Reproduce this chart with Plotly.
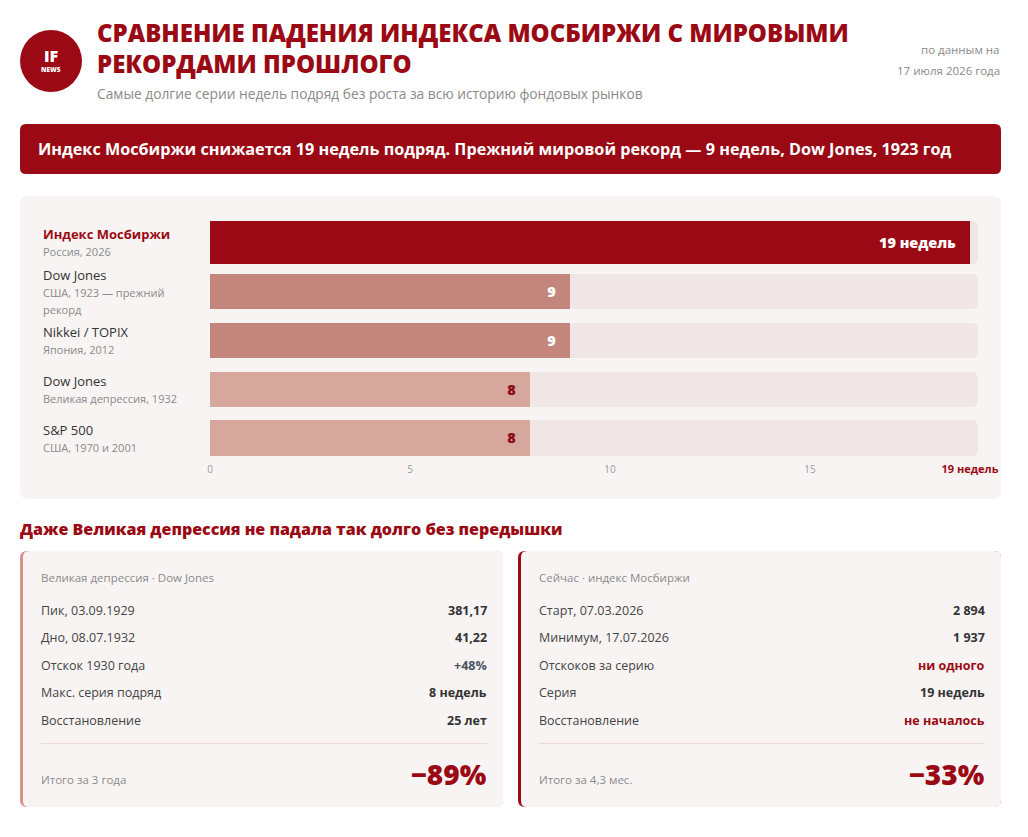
import plotly.graph_objects as go

# ---------------- data ----------------
names = ["Индекс Мосбиржи", "Dow Jones", "Nikkei / TOPIX", "Dow Jones", "S&P 500"]
subs = ["Россия, 2026", "США, 1923 — прежний<br>рекорд", "Япония, 2012",
        "Великая депрессия, 1932", "США, 1970 и 2001"]
weeks = [19, 9, 9, 8, 8]
tick_vals = [0, 5, 10, 15, 19]
tick_text = ["0", "5", "10", "15", "19 недель"]

dep_title = "Великая депрессия · Dow Jones"
dep_labels = ["Пик, 03.09.1929", "Дно, 08.07.1932", "Отскок 1930 года",
              "Макс. серия подряд", "Восстановление"]
dep_values = ["381,17", "41,22", "+48%", "8 недель", "25 лет"]
dep_total_label = "Итого за 3 года"
dep_total = "−89%"

now_title = "Сейчас · индекс Мосбиржи"
now_labels = ["Старт, 07.03.2026", "Минимум, 17.07.2026", "Отскоков за серию",
              "Серия", "Восстановление"]
now_values = ["2 894", "1 937", "ни одного", "19 недель", "не началось"]
now_total_label = "Итого за 4,3 мес."
now_total = "−33%"

# ---------------- style ----------------
W, H = 1028, 837
FONT = "Open Sans"
RED = "#9b0a14"
DARK = "#333333"
GRAY = "#8a8a8a"
CARD = "#f8f4f3"
TRACK = "#f0e6e5"
TRACK_MAX = 19.2
PAD = 2  # annotation inner padding compensation


def px(x):
    return x / W


def py(y):
    return 1 - y / H


def rrect(x0, y0, x1, y1, r, fill, layer="below"):
    pts = [
        ("M", [(x0 + r, y0)]), ("L", [(x1 - r, y0)]), ("Q", [(x1, y0), (x1, y0 + r)]),
        ("L", [(x1, y1 - r)]), ("Q", [(x1, y1), (x1 - r, y1)]), ("L", [(x0 + r, y1)]),
        ("Q", [(x0, y1), (x0, y1 - r)]), ("L", [(x0, y0 + r)]), ("Q", [(x0, y0), (x0 + r, y0)]),
    ]
    path = ""
    for cmd, ps in pts:
        path += cmd + " " + " ".join(f"{px(a):.5f},{py(b):.5f}" for a, b in ps) + " "
    path += "Z"
    return dict(type="path", path=path, xref="paper", yref="paper",
                fillcolor=fill, line=dict(width=0), layer=layer)


def ann(x, y, text, size, color, xanchor="left", yanchor="middle", bold=False, weight=None):
    if bold and weight is None:
        text = f"<b>{text}</b>"
    font = dict(family=FONT, size=size, color=color)
    if weight is not None:
        font["weight"] = weight
    if xanchor == "left":
        x -= PAD
    elif xanchor == "right":
        x += PAD
    return dict(x=px(x), y=py(y), xref="paper", yref="paper",
                text=text, showarrow=False, xanchor=xanchor, yanchor=yanchor,
                align=xanchor if xanchor != "center" else "center",
                font=font)


shapes = []
annotations = []

# ---------- header ----------
shapes.append(dict(type="circle", xref="paper", yref="paper",
                   x0=px(20), x1=px(82), y0=py(30), y1=py(92),
                   fillcolor=RED, line=dict(width=0)))
annotations.append(ann(51, 56, "IF", 16, "white", xanchor="center", weight=800))
annotations.append(ann(51, 69.5, "NEWS", 6.5, "white", xanchor="center", weight=800))
annotations.append(ann(97, 48, "СРАВНЕНИЕ ПАДЕНИЯ ИНДЕКСА МОСБИРЖИ С МИРОВЫМИ<br>РЕКОРДАМИ ПРОШЛОГО",
                       24, RED, weight=800))
annotations.append(ann(97, 93, "Самые долгие серии недель подряд без роста за всю историю фондовых рынков",
                       13.75, GRAY))
annotations.append(ann(1000, 50, "по данным на", 11.5, GRAY, xanchor="right"))
annotations.append(ann(1000, 71, "17 июля 2026 года", 11.5, GRAY, xanchor="right"))

# ---------- banner ----------
shapes.append(rrect(20, 124, 1001, 174, 6, RED))
annotations.append(ann(38, 149, "Индекс Мосбиржи снижается 19 недель подряд. "
                       "Прежний мировой рекорд — 9 недель, Dow Jones, 1923 год",
                       16.2, "white", bold=True))

# ---------- chart card ----------
shapes.append(rrect(20, 196, 1001, 499, 8, CARD))

idx = list(range(len(weeks)))
bar_colors = []
text_colors = []
for i, v in enumerate(weeks):
    if i == 0:
        bar_colors.append(RED); text_colors.append("white")
    elif v >= 9:
        bar_colors.append("#c4867c"); text_colors.append("white")
    else:
        bar_colors.append("#d6a79c"); text_colors.append("#8b0a14")
widths = [0.89 if i == 0 else 0.72 for i in idx]
labels_in = [f"{v} недель" if i == 0 else str(v) for i, v in enumerate(weeks)]

for i in idx:
    nm_color = RED if i == 0 else DARK
    nm = f"<b>{names[i]}</b>" if i == 0 else names[i]
    annotations.append(dict(
        x=px(43 - PAD), y=i, xref="paper", yref="y", xanchor="left", yanchor="middle",
        align="left", showarrow=False,
        text=f"{nm}<br><span style='font-size:11px;color:{GRAY}'>{subs[i]}</span>",
        font=dict(family=FONT, size=13, color=nm_color)))

traces = [
    go.Bar(x=[TRACK_MAX] * len(weeks), y=idx, orientation="h", width=widths,
           marker=dict(color=TRACK, cornerradius=6, line=dict(width=0)),
           hoverinfo="skip", showlegend=False),
    go.Bar(x=weeks, y=idx, orientation="h", width=widths, text=labels_in,
           texttemplate="%{text}\u00a0\u00a0\u00a0", textposition="inside",
           insidetextanchor="end",
           textfont=dict(family=FONT, size=14.5, color=text_colors, weight=800),
           marker=dict(color=bar_colors, line=dict(width=0)),
           hoverinfo="skip", showlegend=False, cliponaxis=False),
]

tick_labels = [t if t != "19 недель" else f"<b><span style='color:{RED};font-size:11px'>{t}</span></b>"
               for t in tick_text]

# ---------- section heading ----------
annotations.append(ann(20, 529, "Даже Великая депрессия не падала так долго без передышки",
                       16, RED, weight=800))


def card(x0, x1, border, title, labels, values, vcolors, total_label, total):
    shapes.append(rrect(x0, 551, x1, 807, 7, border))
    shapes.append(rrect(x0 + 3, 551, x1, 807, 6, CARD))
    lx, rx = x0 + 21, x1 - 16
    annotations.append(ann(lx, 577, title, 11.5, GRAY))
    for k, (lab, val, vc) in enumerate(zip(labels, values, vcolors)):
        y = 610 + k * 27.6
        annotations.append(ann(lx, y, lab, 12.5, "#444444"))
        annotations.append(ann(rx, y, val, 12.5, vc, xanchor="right", bold=True))
    shapes.append(dict(type="line", xref="paper", yref="paper", x0=px(lx), x1=px(rx),
                       y0=py(743.5), y1=py(743.5), line=dict(color="#ead9d7", width=1)))
    annotations.append(ann(lx, 779, total_label, 11.5, GRAY))
    annotations.append(ann(rx, 774, total, 28, RED, xanchor="right", weight=800))


card(20, 503, "#d4918b", dep_title, dep_labels, dep_values,
     [DARK, DARK, "#4b5563", DARK, DARK], dep_total_label, dep_total)
card(518, 1001, RED, now_title, now_labels, now_values,
     [DARK, DARK, RED, DARK, RED], now_total_label, now_total)

# ---------- layout ----------
row_first, row_step = 242.4, 48.9
row_top = row_first - row_step / 2
row_bot = row_first + row_step * (len(weeks) - 0.5)
fig = go.Figure(traces)
fig.update_layout(
    width=W, height=H, autosize=False, margin=dict(l=0, r=0, t=0, b=0, pad=0),
    paper_bgcolor="white", plot_bgcolor="rgba(0,0,0,0)",
    barmode="overlay", bargap=0,
    font=dict(family=FONT),
    shapes=shapes, annotations=annotations,
    xaxis=dict(domain=[px(210), px(978)], range=[0, TRACK_MAX], showgrid=False,
               zeroline=False, showline=False, tickvals=tick_vals, ticktext=tick_labels,
               ticks="", tickfont=dict(family=FONT, size=10, color="#999999"),
               fixedrange=True, automargin=False),
    yaxis=dict(domain=[py(row_bot), py(row_top)], range=[len(weeks) - 0.5, -0.5],
               visible=False, fixedrange=True, automargin=False),
    hovermode=False,
)
fig.write_html(
    "out.html",
    config={"displayModeBar": False, "responsive": False},
    post_script="document.body.style.margin='0';document.body.style.overflow='hidden';"
                "document.documentElement.style.overflow='hidden';",
)
